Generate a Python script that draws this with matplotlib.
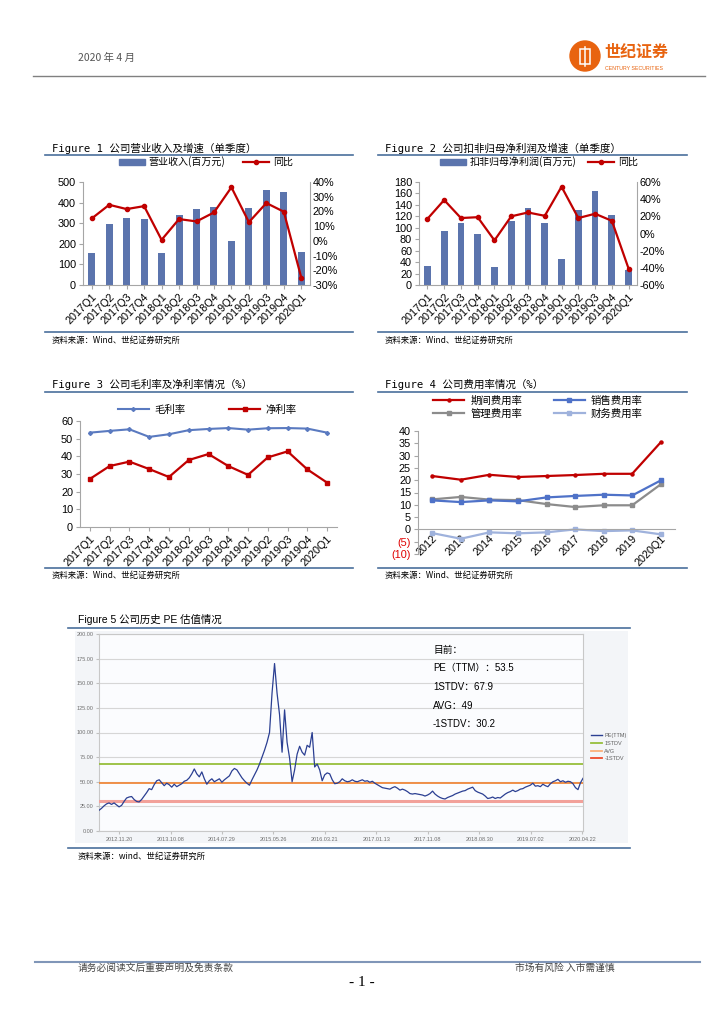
import matplotlib
matplotlib.use('Agg')
import matplotlib.pyplot as plt
import numpy as np
from matplotlib.patches import Ellipse, Rectangle, Patch
from matplotlib.lines import Line2D
from matplotlib.ticker import FuncFormatter

plt.rcParams['font.family'] = ['Liberation Sans', 'Noto Sans CJK SC', 'DejaVu Sans']
plt.rcParams['axes.unicode_minus'] = False

# ---------------- data ----------------
quarters = ['2017Q1', '2017Q2', '2017Q3', '2017Q4', '2018Q1', '2018Q2', '2018Q3',
            '2018Q4', '2019Q1', '2019Q2', '2019Q3', '2019Q4', '2020Q1']
revenue = [155, 295, 325, 318, 155, 338, 370, 378, 212, 376, 462, 450, 160]
revenue_yoy = [15.2, 24.5, 21.6, 23.6, 0.7, 14.8, 13.2, 19.3, 36.4, 12.7, 25.7, 19.8, -25.0]
np_ded = [33, 94, 109, 90, 31, 112, 135, 108, 45, 131, 164, 122, 27]
np_ded_yoy = [17, 39, 18, 19, -8, 20, 24.5, 20.6, 54.5, 18, 23, 14.8, -41]
gross_margin = [53.4, 54.4, 55.3, 51.0, 52.5, 54.8, 55.5, 56.0, 55.1, 55.9, 56.0, 55.7, 53.4]
net_margin = [27.2, 34.5, 37.0, 32.8, 28.3, 37.9, 41.3, 34.5, 29.5, 39.4, 42.8, 32.6, 25.1]

years = ['2012', '2013', '2014', '2015', '2016', '2017', '2018', '2019', '2020Q1']
period_exp = [21.7, 20.2, 22.2, 21.3, 21.7, 22.1, 22.6, 22.6, 35.4]
sales_exp = [11.8, 11.1, 11.8, 11.4, 13.0, 13.6, 14.1, 13.8, 19.9]
admin_exp = [12.2, 13.2, 12.1, 11.9, 10.3, 9.1, 9.8, 9.8, 18.3]
fin_exp = [-1.5, -3.8, -1.2, -1.6, -1.2, 0.0, -0.7, -0.4, -2.0]

pe_ttm = [21, 23, 25.5, 27.5, 28.5, 27, 28.5, 26.5, 24.5, 26, 30, 33.5, 34.5, 35, 32, 30,
          29.5, 32, 35.5, 39, 43, 42, 47, 51, 52, 49, 46, 48.5, 47, 44.5, 47.5, 45, 46.5,
          48, 50.5, 51.5, 54, 58, 63, 58, 55, 60, 53, 47.5, 51, 53, 50, 51.5, 53, 49.5,
          52, 54, 56, 61, 63.5, 62, 58, 54, 51, 48.5, 46.5, 52, 57, 62, 68, 75, 82, 90,
          100, 140, 170, 140, 118, 80, 123, 90, 74, 50, 62, 78, 86, 80, 77, 87, 85, 100,
          65, 68, 62, 51, 57, 59, 58, 52, 48, 48.5, 50, 53, 51, 50, 50.5, 52, 50.5, 50,
          51, 52, 50.5, 51, 49.5, 50.5, 48.5, 47, 45.5, 44, 43.5, 43, 42.5, 44, 45, 43.5,
          41.5, 42.5, 41.5, 40, 38, 37.5, 38, 37.5, 37, 36.5, 35.5, 36.5, 38, 40.5, 37.5,
          35.5, 34, 33, 32.5, 34, 35, 36, 37.5, 38.5, 39.5, 40.5, 41, 42.5, 43.5, 44.5,
          41, 39.5, 38.5, 37.5, 35.5, 33, 33.5, 34.5, 33, 34, 33.5, 35.5, 37.5, 39, 40,
          41.5, 40, 41, 42.5, 43, 44.5, 45.5, 46.5, 48.5, 45.5, 46, 45, 47.5, 46, 45, 48,
          50, 51, 52.5, 50, 51, 49.5, 50.5, 50, 48, 44, 42, 49, 53.5]
pe_stats = {'1STDV': 67.9, 'AVG': 49.0, '-1STDV': 30.2}
pe_current = 53.5
pe_dates = ['2012.11.20', '2013.10.08', '2014.07.29', '2015.05.26', '2016.03.21',
            '2017.01.13', '2017.11.08', '2018.08.30', '2019.07.02', '2020.04.22']
pe_yticks = [0, 25, 50, 75, 100, 125, 150, 175, 200]

# ---------------- helpers ----------------
W, H = 724, 1024
fig = plt.figure(figsize=(W / 100, H / 100), dpi=100)
fig.patch.set_facecolor('white')


def add_ax(l, t, r, b, **kw):
    return fig.add_axes([l / W, 1 - b / H, (r - l) / W, (b - t) / H], **kw)


def ftext(x, y, s, **kw):
    kw.setdefault('va', 'center')
    return fig.text(x / W, 1 - y / H, s, **kw)


def hline(x0, x1, y, color, lw):
    fig.add_artist(Line2D([x0 / W, x1 / W], [1 - y / H, 1 - y / H], color=color, lw=lw,
                          transform=fig.transFigure))


MONO = ['DejaVu Sans Mono', 'Noto Sans CJK SC']
CJK = ['Noto Sans CJK SC', 'DejaVu Sans']
SEP = '#4a6f9c'
BAR = '#5b74ad'
RED = '#c00000'
SPC = '#a6a6a6'
TFS = 7.6
SFS = 6.0
AFS = 7.8


def style(ax, vis):
    for s in ax.spines:
        ax.spines[s].set_visible(s in vis)
        ax.spines[s].set_color(SPC)
        ax.spines[s].set_linewidth(0.8)
    ax.tick_params(colors=SPC, labelcolor='black', labelsize=AFS, length=3, width=0.8, pad=2)


def section(x_title, y_title, title, x0, x1, y_top, y_bot, y_src, mono=True):
    ftext(x_title, y_title, title, fontsize=TFS, family=MONO if mono else CJK)
    hline(x0, x1, y_top, SEP, 1.2)
    hline(x0, x1, y_bot, SEP, 1.2)
    ftext(x_title, y_src, '资料来源：Wind、世纪证券研究所', fontsize=SFS, family=CJK)


# ---------------- header ----------------
ftext(78, 58, '2020 年 4 月', fontsize=7.5, color='#555555', family=CJK)
hline(33, 705, 76, '#808080', 1.0)
fig.add_artist(Ellipse((585 / W, 1 - 56 / H), 30 / W, 30 / H, transform=fig.transFigure,
                       color='#e8630f', zorder=5))
fig.add_artist(Rectangle((580 / W, 1 - 64 / H), 10 / W, 15 / H, transform=fig.transFigure,
                         facecolor='none', edgecolor='white', lw=1.1, zorder=6))
fig.add_artist(Line2D([585 / W, 585 / W], [1 - 66 / H, 1 - 47 / H], color='white', lw=1.1,
                      transform=fig.transFigure, zorder=6))
ftext(604, 52, '世纪证券', fontsize=11.5, color='#e8630f', fontweight='bold', family=CJK)
ftext(605, 68, 'CENTURY SECURITIES', fontsize=3.8, color='#e8630f')

# ---------------- Figure 1 ----------------
section(52, 148, 'Figure 1 公司营业收入及增速（单季度）', 45, 353, 155, 332, 340)
ax = add_ax(83, 182, 310, 285)
x = np.arange(len(quarters))
ax.bar(x, revenue, width=0.4, color=BAR, zorder=2)
ax.set_xlim(-0.5, len(quarters) - 0.5)
ax.set_ylim(0, 500)
ax.set_yticks(range(0, 501, 100))
ax.set_xticks(x)
ax.set_xticklabels(quarters, rotation=45, ha='right', rotation_mode='anchor')
style(ax, ('left', 'bottom', 'right'))
ax2 = ax.twinx()
ax2.plot(x, revenue_yoy, color=RED, lw=1.6, marker='o', ms=3, zorder=3)
ax2.set_ylim(-30, 40)
ax2.set_yticks(range(-30, 41, 10))
ax2.yaxis.set_major_formatter(FuncFormatter(lambda v, p: f'{v:.0f}%'))
style(ax2, ())
ax2.tick_params(length=0)
h = [Patch(color=BAR), Line2D([], [], color=RED, lw=1.6, marker='o', ms=3)]
ax.legend(h, ['营业收入(百万元)', '同比'], loc='center', bbox_to_anchor=(206 / W, 1 - 162 / H),
          bbox_transform=fig.transFigure, ncol=2, frameon=False,
          handlelength=2.6, handleheight=0.6, columnspacing=1.8, handletextpad=0.4,
          prop={'family': CJK, 'size': 7.2})

# ---------------- Figure 2 ----------------
section(385, 148, 'Figure 2 公司扣非归母净利润及增速（单季度）', 378, 687, 155, 332, 340)
ax = add_ax(419, 182, 637, 285)
ax.bar(x, np_ded, width=0.4, color=BAR, zorder=2)
ax.set_xlim(-0.5, len(quarters) - 0.5)
ax.set_ylim(0, 180)
ax.set_yticks(range(0, 181, 20))
ax.set_xticks(x)
ax.set_xticklabels(quarters, rotation=45, ha='right', rotation_mode='anchor')
style(ax, ('left', 'bottom', 'right'))
ax2 = ax.twinx()
ax2.plot(x, np_ded_yoy, color=RED, lw=1.6, marker='o', ms=3, zorder=3)
ax2.set_ylim(-60, 60)
ax2.set_yticks(range(-60, 61, 20))
ax2.yaxis.set_major_formatter(FuncFormatter(lambda v, p: f'{v:.0f}%'))
style(ax2, ())
ax2.tick_params(length=0)
ax.legend(h, ['扣非归母净利润(百万元)', '同比'], loc='center',
          bbox_to_anchor=(539 / W, 1 - 162 / H), bbox_transform=fig.transFigure, ncol=2,
          frameon=False, handlelength=2.6, handleheight=0.6, columnspacing=1.2,
          handletextpad=0.4, prop={'family': CJK, 'size': 7.2})

# ---------------- Figure 3 ----------------
section(52, 384, 'Figure 3 公司毛利率及净利率情况（%）', 45, 353, 392, 568, 575)
ax = add_ax(80, 421, 337, 527)
ax.plot(x, gross_margin, color='#5a7ac0', lw=1.5, marker='D', ms=2, label='毛利率')
ax.plot(x, net_margin, color=RED, lw=1.6, marker='s', ms=3, label='净利率')
ax.set_xlim(-0.5, len(quarters) - 0.5)
ax.set_ylim(0, 60)
ax.set_yticks(range(0, 61, 10))
ax.set_xticks(x)
ax.set_xticklabels(quarters, rotation=45, ha='right', rotation_mode='anchor')
style(ax, ('left', 'bottom'))
ax.legend(loc='center', bbox_to_anchor=(207 / W, 1 - 410 / H), bbox_transform=fig.transFigure,
          ncol=2, frameon=False, handlelength=3.0, columnspacing=4.2, handletextpad=0.5,
          prop={'family': CJK, 'size': 7.5})

# ---------------- Figure 4 ----------------
section(385, 384, 'Figure 4 公司费用率情况（%）', 378, 687, 392, 568, 575)
ax = add_ax(418, 431, 675, 554)
style(ax, ('left', 'bottom'))
ax.spines['bottom'].set_position(('data', 0))
xy = np.arange(len(years))
ax.plot(xy, period_exp, color=RED, lw=1.6, marker='o', ms=2.2, label='期间费用率')
ax.plot(xy, admin_exp, color='#8c8c8c', lw=1.6, marker='s', ms=3, label='管理费用率')
ax.plot(xy, sales_exp, color='#4f72c8', lw=1.6, marker='s', ms=3, label='销售费用率')
ax.plot(xy, fin_exp, color='#9fb2dc', lw=1.6, marker='s', ms=3, label='财务费用率')
ax.set_xlim(-0.5, len(years) - 0.5)
ax.set_ylim(-10, 40)
ax.set_yticks(range(-10, 41, 5))
ax.yaxis.set_major_formatter(FuncFormatter(lambda v, p: f'({-v:.0f})' if v < 0 else f'{v:.0f}'))
ax.set_xticks(xy)
ax.set_xticklabels(years, rotation=45, ha='right', rotation_mode='anchor')
ax.tick_params(colors=SPC, labelcolor='black', labelsize=AFS, width=0.8)
ax.tick_params(axis='x', length=0, pad=3)
ax.tick_params(axis='y', length=3, pad=2)
fig.canvas.draw()
for v, lab in zip(ax.get_yticks(), ax.get_yticklabels()):
    if v < 0:
        lab.set_color('#e00000')
hh, ll = ax.get_legend_handles_labels()
ax.legend(hh, ll, loc='center', bbox_to_anchor=(538 / W, 1 - 407 / H),
          bbox_transform=fig.transFigure, ncol=2, frameon=False, handlelength=3.0,
          columnspacing=3.0, handletextpad=0.6, labelspacing=0.25,
          prop={'family': CJK, 'size': 7.5})

# ---------------- Figure 5 ----------------
ftext(78, 619, 'Figure 5 公司历史 PE 估值情况', fontsize=7.5)
hline(68, 630, 628, SEP, 1.2)
hline(68, 630, 848, SEP, 1.2)
ftext(78, 856, '资料来源：wind、世纪证券研究所', fontsize=SFS, family=CJK)
fig.add_artist(Rectangle((75 / W, 1 - 843 / H), 553 / W, 212 / H, transform=fig.transFigure,
                         facecolor='#f3f5f8', edgecolor='none', zorder=0))
ax = add_ax(99, 634, 583, 831)
ax.set_facecolor('#fbfcfe')
xp = np.arange(len(pe_ttm))
ax.plot(xp, pe_ttm, color='#2b3f92', lw=0.9, zorder=4, label='PE(TTM)')
ax.axhline(pe_stats['1STDV'], color='#97bf3c', lw=1.3, zorder=3, label='1STDV')
ax.axhline(pe_stats['AVG'], color='#f0893c', lw=1.3, zorder=3, label='AVG')
ax.axhline(pe_stats['-1STDV'], color='#f2a19a', lw=2.2, zorder=3, label='-1STDV')
ax.set_xlim(0, len(pe_ttm) - 1)
ax.set_ylim(0, 200)
ax.set_yticks(pe_yticks)
ax.yaxis.set_major_formatter(FuncFormatter(lambda v, p: f'{v:.2f}'))
ax.grid(axis='y', color='#d6d6d6', lw=0.8, zorder=1)
tick_pos = np.linspace(8, len(pe_ttm) - 1.3, len(pe_dates))
ax.set_xticks(tick_pos)
ax.set_xticklabels(pe_dates)
for s in ax.spines.values():
    s.set_color('#c8c8c8')
    s.set_linewidth(0.8)
ax.tick_params(labelsize=4, labelcolor='#707070', colors='#c0c0c0', length=2, pad=2)
ax.set_axisbelow(True)
tx = 433
ftext(tx, 650, '目前：', fontsize=7, family=CJK)
ftext(tx, 668, f'PE（TTM）：{pe_current}', fontsize=7)
ftext(tx, 687, f"1STDV：{pe_stats['1STDV']}", fontsize=7)
ftext(tx, 706, f"AVG：{pe_stats['AVG']:g}", fontsize=7)
ftext(tx, 724, f"-1STDV：{pe_stats['-1STDV']}", fontsize=7)
lh = [Line2D([], [], color='#2b3f92', lw=1), Line2D([], [], color='#97bf3c', lw=1.3),
      Line2D([], [], color='#fbb07a', lw=1.3), Line2D([], [], color='#ee4b2b', lw=1.3)]
fig.legend(lh, ['PE(TTM)', '1STDV', 'AVG', '-1STDV'], loc='upper left',
           bbox_to_anchor=(586 / W, 1 - 728 / H), frameon=False, fontsize=4,
           handlelength=2.0, handletextpad=0.4, labelspacing=0.5, labelcolor='#606060')

# ---------------- footer ----------------
hline(35, 700, 962, '#8096b8', 1.5)
ftext(78, 968, '请务必阅读文后重要声明及免责条款', fontsize=7, color='#444444', family=CJK)
ftext(515, 968, '市场有风险 入市需谨慎', fontsize=7, color='#444444', family=CJK)
ftext(362, 983, '- 1 -', fontsize=11, ha='center', family=['Liberation Serif'])

fig.savefig('out.png', dpi=100)
